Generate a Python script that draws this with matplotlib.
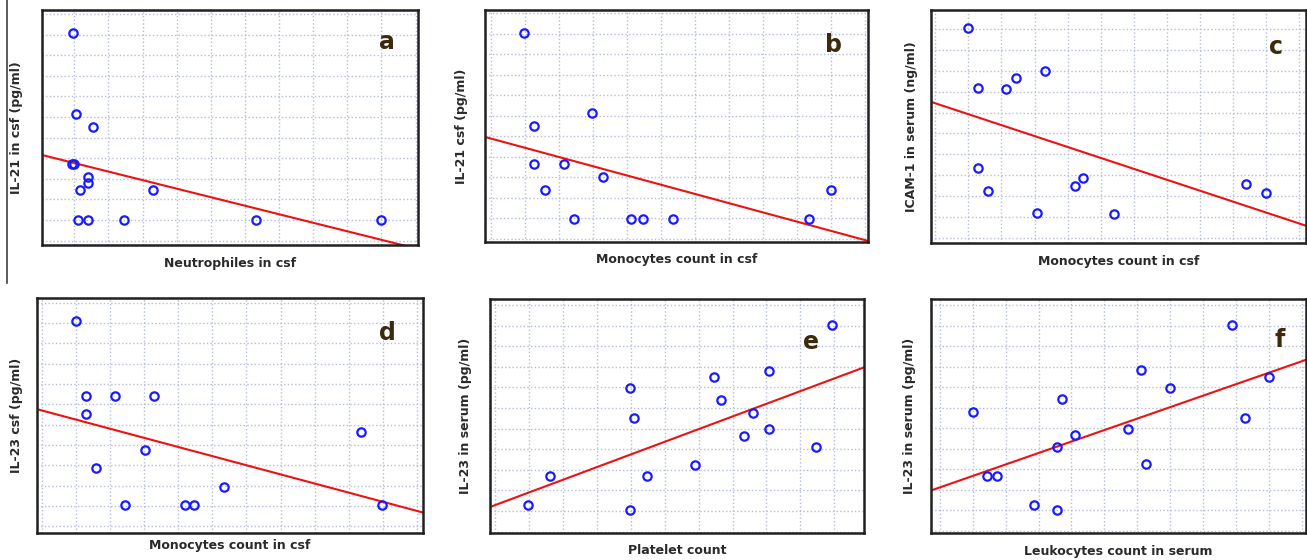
import matplotlib.pyplot as plt
from matplotlib.lines import Line2D
import numpy as np

# values, in grid units (one unit = one grid square)
a_x = [0.96, 1.06, 1.56, 0.92, 1.00, 1.39, 1.39, 1.16, 3.30, 1.10, 1.40, 2.47, 6.33, 9.98]
a_y = [10.07, 6.13, 5.52, 3.71, 3.71, 3.07, 2.82, 2.44, 2.44, 1.02, 1.02, 1.02, 1.02, 1.02]

b_x = [0.99, 1.28, 2.98, 1.28, 2.14, 3.29, 1.59, 9.98, 2.43, 4.13, 4.47, 5.34, 9.34]
b_y = [10.05, 5.49, 6.11, 3.66, 3.66, 3.01, 2.39, 2.39, 0.98, 0.98, 0.98, 0.98, 0.98]

c_x = [0.99, 1.29, 2.15, 2.45, 3.32, 1.29, 1.59, 3.07, 4.23, 4.47, 5.39, 9.40, 10.0]
c_y = [10.06, 7.20, 7.13, 7.66, 7.98, 3.35, 2.26, 1.19, 2.50, 2.88, 1.11, 2.58, 2.12]

d_x = [0.98, 1.28, 2.13, 3.28, 1.28, 3.02, 1.57, 5.35, 9.36, 2.42, 4.19, 4.45, 9.98]
d_y = [10.08, 6.40, 6.40, 6.40, 5.53, 3.77, 2.88, 1.92, 4.64, 1.04, 1.04, 1.04, 1.04]

e_x = [9.94, 8.07, 6.44, 3.97, 6.65, 4.08, 7.61, 8.07, 7.33, 9.45, 5.90, 1.61, 4.46, 0.96, 3.97]
e_y = [9.03, 6.81, 6.50, 5.95, 5.38, 4.52, 4.77, 3.97, 3.66, 3.11, 2.24, 1.69, 1.69, 0.28, 0.03]

f_x = [8.88, 6.10, 7.00, 9.99, 3.70, 1.01, 9.28, 5.72, 4.11, 3.55, 6.28, 1.44, 1.75, 2.87, 3.55]
f_y = [9.03, 6.81, 5.95, 6.50, 5.40, 4.77, 4.52, 3.97, 3.66, 3.11, 2.24, 1.69, 1.69, 0.28, 0.03]

# regression lines (intercept, slope)
fits = {"a": (4.18, -0.414), "b": (4.89, -0.451), "c": (6.45, -0.525),
        "d": (5.69, -0.448), "e": (0.29, 0.614), "f": (1.12, 0.558)}

panels = [
    ("a", a_x, a_y, "Neutrophiles in csf", "IL-21 in csf (pg/ml)"),
    ("b", b_x, b_y, "Monocytes count in csf", "IL-21 csf (pg/ml)"),
    ("c", c_x, c_y, "Monocytes count in csf", "ICAM-1 in serum (ng/ml)"),
    ("d", d_x, d_y, "Monocytes count in csf", "IL-23 csf (pg/ml)"),
    ("e", e_x, e_y, "Platelet count", "IL-23 in serum (pg/ml)"),
    ("f", f_x, f_y, "Leukocytes count in serum", "IL-23 in serum (pg/ml)"),
]

# layout in pixels: left, top, right, bottom of each box
boxes = {"a": (42, 10, 418, 245), "b": (485, 10, 868, 242), "c": (931, 10, 1306, 243),
         "d": (37, 298, 423, 533), "e": (490, 299, 864, 533), "f": (931, 299, 1306, 533)}
limits = {"a": ((0.055, 11.07), (-0.21, 11.19)), "b": ((-0.17, 11.08), (-0.16, 11.16)),
          "c": ((-0.13, 11.2), (-0.26, 10.93)), "d": ((-0.16, 11.19), (-0.33, 11.23)),
          "e": ((-0.16, 10.88), (-1.07, 10.29)), "f": ((-0.27, 11.13), (-1.10, 10.29))}
letter_pos = {"a": (0.917, 0.864), "b": (0.909, 0.849), "c": (0.92, 0.84),
              "d": (0.907, 0.851), "e": (0.858, 0.816), "f": (0.93, 0.825)}
ylab_off = {"a": 25, "b": 23, "c": 19, "d": 20, "e": 25, "f": 21}
xlab_off = {"a": 18, "b": 18, "c": 18, "d": 12, "e": 17, "f": 19}

W, H = 1307, 560
fig = plt.figure(figsize=(W / 100, H / 100), dpi=100)

for key, xs, ys, xlab, ylab in panels:
    l, t, r, b = boxes[key]
    ax = fig.add_axes([l / W, 1 - b / H, (r - l) / W, (b - t) / H])
    (x0, x1), (y0, y1) = limits[key]
    ax.set_xlim(x0, x1)
    ax.set_ylim(y0, y1)
    ax.set_xticks(np.arange(np.ceil(x0), x1, 1))
    ax.set_yticks(np.arange(np.ceil(y0), y1, 1))
    ax.tick_params(length=0, labelbottom=False, labelleft=False)
    ax.grid(True, color="#b4bddc", linestyle=":", linewidth=1.0)
    ax.set_axisbelow(True)
    for sp in ax.spines.values():
        sp.set_linewidth(1.8)
        sp.set_color("#202020")

    icpt, slope = fits[key]
    lx = np.array([x0, x1])
    ax.plot(lx, icpt + slope * lx, color="#ee1111", linewidth=1.5)
    ax.plot(xs, ys, "o", markerfacecolor="none", markeredgecolor="#1a1aff",
            markersize=6, markeredgewidth=1.6, linestyle="none")

    ax.text(*letter_pos[key], key, transform=ax.transAxes, fontsize=17,
            fontweight="bold", color="#3b2a0c", ha="center", va="center")

    ax.set_xlabel(xlab, fontsize=9, fontweight="bold", color="#2a2a2a", va="center")
    ax.set_ylabel(ylab, fontsize=9, fontweight="bold", color="#2a2a2a", va="center")
    ax.xaxis.set_label_coords(0.5, -xlab_off[key] / (b - t))
    ax.yaxis.set_label_coords(-ylab_off[key] / (r - l), 0.5)

# thin vertical rule at the left edge of the top row
fig.add_artist(Line2D([7 / W, 7 / W], [1, 1 - 283 / H], color="#404040", linewidth=1.2))

fig.savefig("out.png", dpi=100)
